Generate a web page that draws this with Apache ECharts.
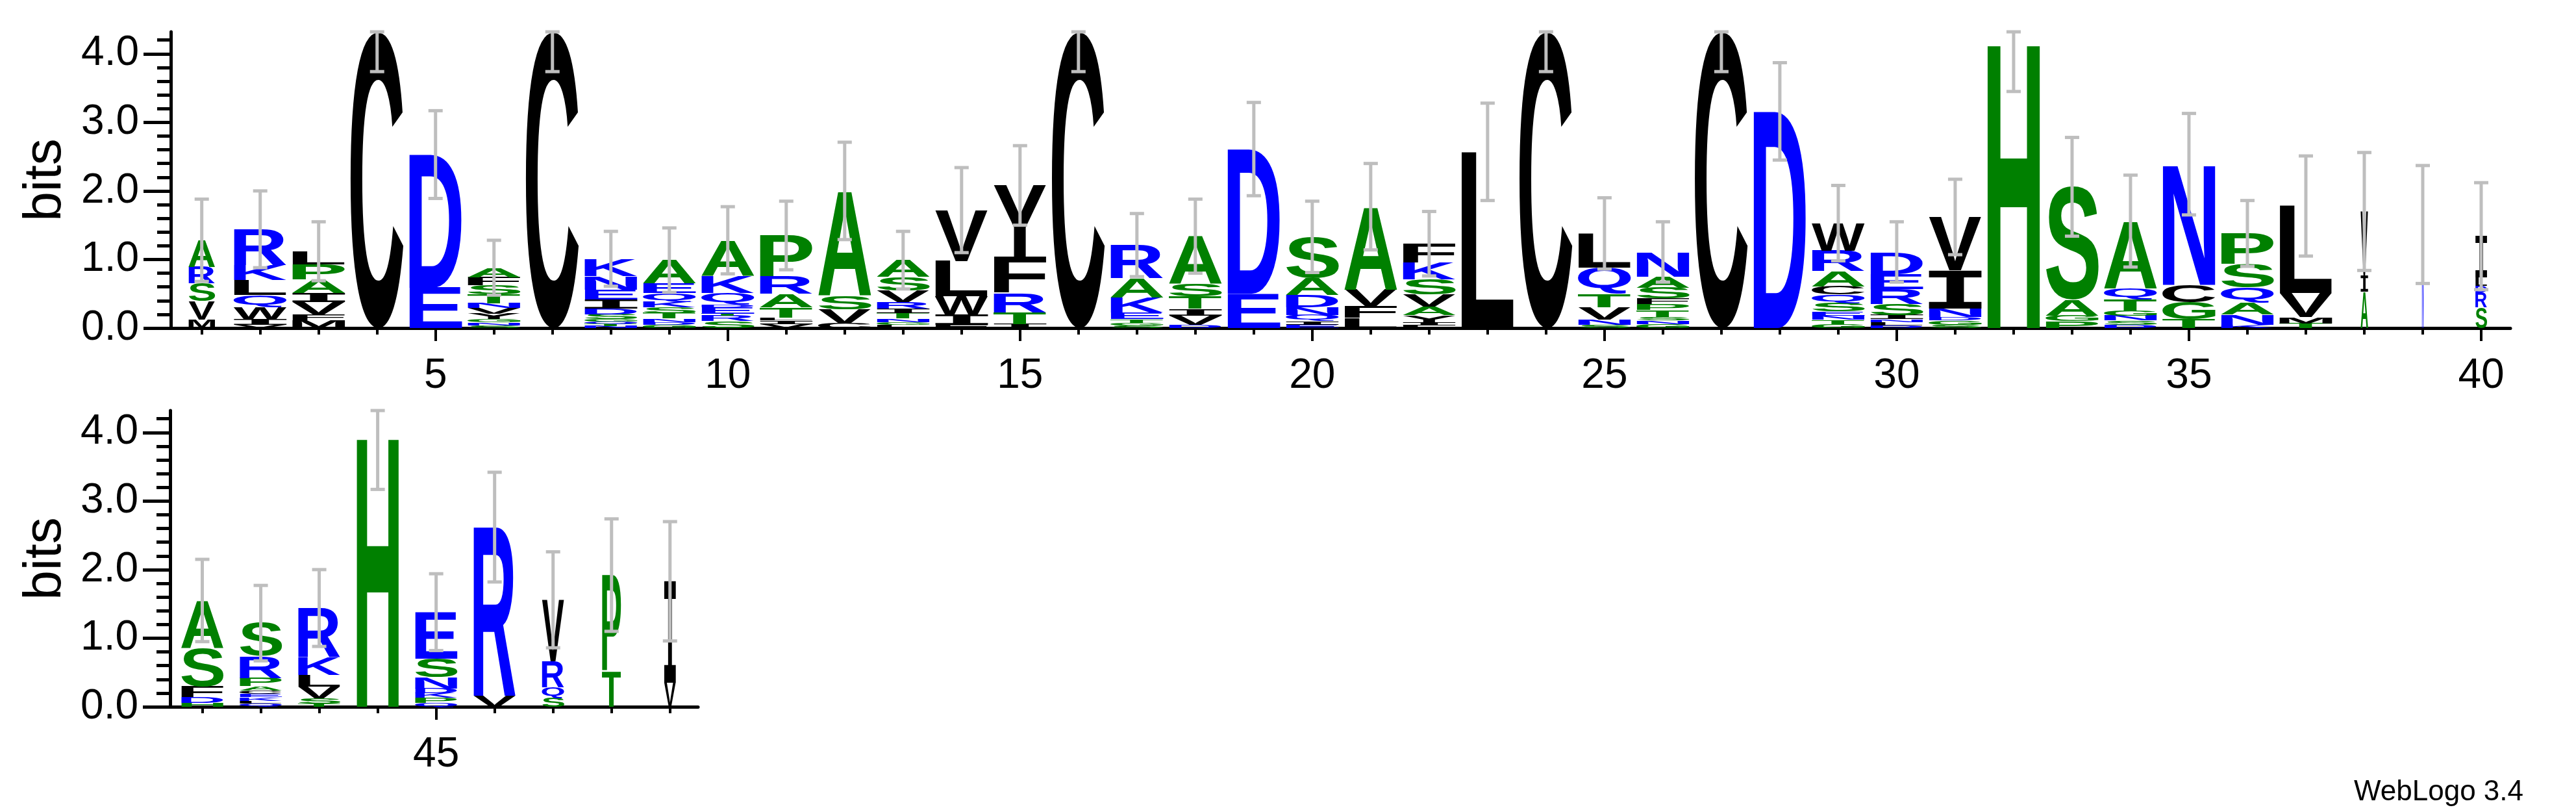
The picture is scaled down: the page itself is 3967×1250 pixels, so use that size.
<!DOCTYPE html>
<html><head><meta charset="utf-8">
<script src="https://cdn.jsdelivr.net/npm/echarts@6/dist/echarts.min.js"></script>
<style>html,body{margin:0;padding:0;background:#fff}#c{width:3967px;height:1250px}</style>
</head><body><div id="c"></div>
<script>
// Sequence logo stacks (bottom -> top): [letter, bits]
const stacks = [
 [['M',.12],['V',.27],['S',.26],['R',.24],['A',.39]],
 [['V',.05],['I',.08],['W',.17],['Q',.18],['L',.22],['K',.22],['R',.52]],
 [['M',.11],['F',.09],['V',.18],['I',.13],['A',.2],['P',.22],['L',.19]],
 [['C',4.32]],
 [['E',.59],['D',1.94]],
 [['S',.04],['N',.04],['G',.05],['Y',.08],['V',.08],['N',.07],['T',.13],['S',.13],['F',.12],['A',.14]],
 [['C',4.32]],
 [['N',.03],['T',.03],['Q',.03],['G',.04],['S',.07],['D',.08],['I',.14],['E',.14],['N',.2],['K',.25]],
 [['G',.05],['D',.04],['N',.05],['T',.08],['S',.08],['K',.08],['Q',.13],['E',.14],['A',.34]],
 [['S',.1],['R',.08],['T',.03],['E',.09],['D',.04],['Q',.17],['K',.25],['A',.52]],
 [['V',.06],['I',.05],['L',.04],['T',.15],['A',.2],['R',.25],['P',.6]],
 [['C',.07],['V',.2],['S',.2],['A',1.53]],
 [['L',.05],['G',.04],['N',.05],['T',.08],['I',.06],['R',.1],['V',.17],['S',.2],['A',.24]],
 [['F',.05],['I',.15],['W',.26],['L',.52],['V',.74]],
 [['I',.06],['T',.17],['R',.28],['F',.53],['Y',1.04]],
 [['C',4.32]],
 [['S',.04],['G',.04],['T',.05],['E',.1],['K',.22],['A',.28],['R',.48]],
 [['D',.05],['V',.13],['I',.1],['T',.18],['S',.18],['A',.7]],
 [['E',.5],['D',2.11]],
 [['E',.05],['I',.05],['Q',.09],['N',.11],['D',.18],['A',.25],['S',.6]],
 [['L',.15],['F',.17],['V',.24],['A',1.21]],
 [['L',.04],['I',.05],['Y',.1],['A',.12],['V',.18],['S',.22],['K',.24],['F',.28]],
 [['L',2.57]],
 [['C',4.32]],
 [['S',.05],['N',.07],['V',.18],['T',.2],['Q',.38],['L',.5]],
 [['G',.06],['N',.05],['S',.05],['T',.1],['P',.09],['F',.08],['S',.16],['A',.16],['N',.36]],
 [['C',4.32]],
 [['D',3.16]],
 [['G',.06],['T',.06],['N',.06],['E',.06],['S',.12],['Q',.13],['C',.12],['A',.22],['R',.3],['W',.4]],
 [['D',.04],['L',.05],['N',.04],['I',.06],['S',.16],['R',.22],['E',.22],['D',.32]],
 [['S',.05],['G',.06],['D',.05],['N',.12],['I',.56],['V',.78]],
 [['H',4.18]],
 [['P',.1],['G',.08],['A',.23],['S',1.65]],
 [['D',.05],['S',.06],['N',.07],['G',.07],['T',.17],['Q',.16],['A',.98]],
 [['T',.13],['G',.25],['C',.25],['N',1.76]],
 [['K',.05],['N',.15],['A',.17],['Q',.22],['S',.34],['P',.45]],
 [['T',.07],['M',.09],['V',.35],['L',1.27]],
 [['A',.53],['I',.23],['V',.94]],
 [['N',1.51]],
 [['S',.3],['R',.22],['D',.1],['L',.12],['I',.6]],
 [['H',.06],['D',.08],['F',.16],['S',.56],['A',.69]],
 [['Q',.05],['L',.04],['K',.05],['E',.05],['C',.05],['A',.06],['P',.12],['R',.32],['S',.48]],
 [['T',.05],['S',.07],['V',.17],['L',.17],['K',.26],['R',.72]],
 [['H',3.96]],
 [['Q',.06],['P',.07],['K',.07],['D',.07],['N',.16],['S',.27],['E',.68]],
 [['V',.16],['R',2.46]],
 [['S',.13],['Q',.15],['R',.38],['V',.9]],
 [['T',.52],['P',1.4]],
 [['V',.35],['I',1.48]]
];
// column width fraction (weight)
const colWidth = [0.5,1,1,1,1,1,1,1,1,1, 1,1,1,1,1,1,1,1,1,1, 1,1,1,1,1,1,1,1,1,1, 1,1,1,1,1,1,1,0.14,0.03,0.22,
 0.8,0.8,0.8,0.8,0.8,0.8,0.42,0.36,0.22];
// error bar half widths (bits)
const errHalf = [.6,.56,.43,.58,.64,.4,.58,.4,.47,.49, .5,.71,.42,.62,.58,.58,.46,.54,.68,.52,
 .63,.47,.71,.58,.52,.44,.58,.71,.55,.44, .55,.73,.72,.67,.74,.48,.73,.86,.86,.78,
 .6,.55,.56,.79,.56,.8,.7,.82,.87];
const yMajor = [0,1,2,3,4];
const yMinor = [0.2,0.4,0.6,0.8,1.2,1.4,1.6,1.8,2.2,2.4,2.6,2.8,3.2,3.4,3.6,3.8,4.2];
const topTicks = Array.from({length:40},(_,i)=>i+1);
const topLabels = [5,10,15,20,25,30,35,40];
const botTicks = [41,42,43,44,45,46,47,48,49];
const botLabels = [45];
const YMAX = 4.32;

const green = '#008000', blue = '#0000ff', black = '#000000';
function colorOf(ch){
  if ('ASTGPH'.includes(ch)) return green;
  if ('DENQKR'.includes(ch)) return blue;
  return black;
}
const FONT = 'bold 100px "Liberation Sans", Arial, sans-serif';
const FONT_I = 'bold 100px "DejaVu Sans Mono", "Liberation Mono", monospace';
function fontOf(ch){ return ch === 'I' ? FONT_I : FONT; }
const mctx = document.createElement('canvas').getContext('2d');
const mcache = {};
function metrics(ch){
  if (!mcache[ch]) {
    mctx.font = fontOf(ch); mctx.textBaseline = 'middle'; mctx.textAlign = 'left';
    const m = mctx.measureText(ch);
    mcache[ch] = {l:m.actualBoundingBoxLeft, r:m.actualBoundingBoxRight, a:m.actualBoundingBoxAscent, d:m.actualBoundingBoxDescent};
  }
  return mcache[ch];
}

function buildLetters(fromPos, toPos){
  const items = [];
  for (let p = fromPos; p <= toPos; p++){
    let y = 0;
    stacks[p-1].forEach(([ch,h]) => { items.push({pos:p, y0:y, y1:y+h, ch, w:colWidth[p-1]}); y += h; });
  }
  return items;
}
function buildErr(fromPos, toPos){
  const d = [];
  for (let p = fromPos; p <= toPos; p++){
    const top = stacks[p-1].reduce((s,x)=>s+x[1],0);
    d.push([p, Math.max(0, top-errHalf[p-1]), Math.min(YMAX, top+errHalf[p-1])]);
  }
  return d;
}
function letterSeries(items, xi, yi){
  return {
    type:'custom', xAxisIndex:xi, yAxisIndex:yi, silent:true, z:2,
    data: items.map(it=>[it.pos, it.y0, it.y1]),
    renderItem(params, api){
      const it = items[params.dataIndex];
      const p0 = api.coord([it.pos, it.y0]), p1 = api.coord([it.pos, it.y1]);
      const h = p0[1]-p1[1];
      if (h < 0.3) return null;
      const w = api.size([1,0])[0]*0.91*it.w;
      const m = metrics(it.ch);
      const gw = m.l+m.r, gh = m.a+m.d;
      return {type:'text', x:p0[0]-w/2, y:p1[1], scaleX:w/gw, scaleY:h/gh,
        style:{text:it.ch, x:m.l, y:m.a, font:fontOf(it.ch), fill:colorOf(it.ch),
          align:'left', verticalAlign:'middle', textAlign:'left', textVerticalAlign:'middle'}};
    }
  };
}
function errSeries(data, xi, yi){
  return {
    type:'custom', xAxisIndex:xi, yAxisIndex:yi, silent:true, z:5, data,
    renderItem(params, api){
      const lo = api.coord([api.value(0), api.value(1)]), hi = api.coord([api.value(0), api.value(2)]);
      const st = {stroke:'#bebebe', lineWidth:5};
      const c = 11;
      return {type:'group', children:[
        {type:'line', shape:{x1:lo[0],y1:lo[1],x2:hi[0],y2:hi[1]}, style:st},
        {type:'line', shape:{x1:lo[0]-c,y1:lo[1],x2:lo[0]+c,y2:lo[1]}, style:st},
        {type:'line', shape:{x1:hi[0]-c,y1:hi[1],x2:hi[0]+c,y2:hi[1]}, style:st}
      ]};
    }
  };
}
const lbl = {color:'#000', fontSize:64, fontFamily:'"Liberation Sans", Arial'};
function xAxes(grid, min, max, ticks, labels){
  return [
    {type:'value', gridIndex:grid, min, max, position:'bottom',
     axisLine:{show:true, onZero:false, lineStyle:{color:'#000', width:5}},
     axisTick:{show:true, customValues:ticks, length:10, lineStyle:{color:'#000', width:4}},
     axisLabel:{show:false}, splitLine:{show:false}},
    {type:'value', gridIndex:grid, min, max, position:'bottom',
     axisLine:{show:false, onZero:false},
     axisTick:{show:true, customValues:labels, length:20, lineStyle:{color:'#000', width:4}},
     axisLabel:Object.assign({show:true, customValues:labels, margin:42}, lbl), splitLine:{show:false}}
  ];
}
function yAxes(grid){
  return [
    {type:'value', gridIndex:grid, min:0, max:YMAX, position:'left',
     axisLine:{show:true, onZero:false, lineStyle:{color:'#000', width:5}},
     axisTick:{show:true, customValues:yMajor, length:42, lineStyle:{color:'#000', width:5}},
     axisLabel:Object.assign({show:true, customValues:yMajor, margin:49, formatter:v=>v.toFixed(1)}, lbl),
     splitLine:{show:false}},
    {type:'value', gridIndex:grid, min:0, max:YMAX, position:'left',
     axisLine:{show:false, onZero:false},
     axisTick:{show:true, customValues:yMinor, length:21, lineStyle:{color:'#000', width:5}},
     axisLabel:{show:false}, splitLine:{show:false}}
  ];
}
const chart = echarts.init(document.getElementById('c'), null, {renderer:'canvas'});
chart.setOption({
  backgroundColor:'#fff', animation:false,
  grid:[{left:263, top:49, width:3603, height:456},{left:262, top:632, width:813, height:456}],
  xAxis:[...xAxes(0,0.47,40.5,topTicks,topLabels), ...xAxes(1,40.45,49.48,botTicks,botLabels)],
  yAxis:[...yAxes(0), ...yAxes(1)],
  graphic:[
    {type:'text', x:70, y:277, rotation:Math.PI/2, style:{text:'bits', font:'82px "Liberation Sans", Arial', fill:'#000', align:'center', verticalAlign:'middle'}},
    {type:'text', x:70, y:860, rotation:Math.PI/2, style:{text:'bits', font:'82px "Liberation Sans", Arial', fill:'#000', align:'center', verticalAlign:'middle'}},
    {type:'text', x:3886, y:1220, style:{text:'WebLogo 3.4', font:'44px "Liberation Sans", Arial', fill:'#000', align:'right', verticalAlign:'middle'}}
  ],
  series:[
    letterSeries(buildLetters(1,40),0,0), errSeries(buildErr(1,40),0,0),
    letterSeries(buildLetters(41,49),2,2), errSeries(buildErr(41,49),2,2)
  ]
});
</script></body></html>
